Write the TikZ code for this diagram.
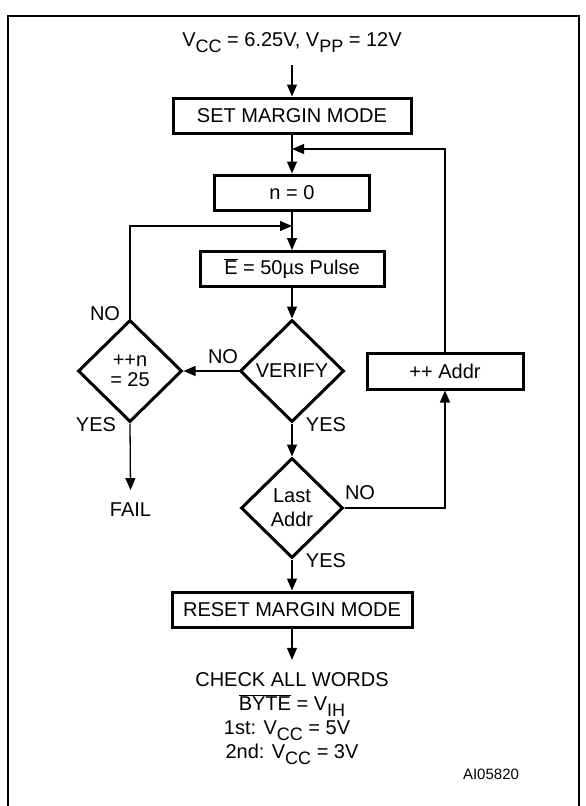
\documentclass[tikz,border=0pt]{standalone}
\usepackage{fontspec}
\setmainfont{Liberation Sans}
\usetikzlibrary{shapes.geometric,arrows.meta}
\newcommand{\lowsub}[1]{\raisebox{-6pt}{\fontsize{18}{18}\selectfont #1}}
\tikzset{
	stepbox/.style={draw, line width=3pt, minimum height=35pt, inner sep=0pt},
	decision/.style={draw, diamond, line width=3pt, inner sep=0pt, minimum width=104pt, minimum height=102pt, align=center},
	flow/.style={line width=1.3pt, -{Triangle[length=12pt,width=10pt]}},
	answer/.style={anchor=base, inner sep=0pt}
}
\begin{document}
\begin{tikzpicture}[x=1pt, y=-1pt, font=\fontsize{20}{24}\selectfont]
			\useasboundingbox (0,0) rectangle (586,806);
			\draw[line width=2.4pt] (8,806) -- (8,16) -- (579,16) -- (579,806);
			\node[anchor=base, inner xsep=0pt, inner ysep=13pt] (supply) at (292,46) {V\lowsub{CC} = 6.25V, V\lowsub{PP} = 12V};
			\node[stepbox, minimum width=238pt] (setmode) at (292,115.5) {SET MARGIN MODE};
			\node[stepbox, minimum width=155pt] (nzero) at (292,192.5) {n = 0};
			\node[stepbox, minimum width=184pt] (pulse) at (292,269) {$\overline{\mbox{E}}$ = 50µs Pulse};
			\node[decision] (verify) at (292,371) {VERIFY};
			\node[decision, font=\fontsize{20}{20}\selectfont] (tries) at (130,371) {++n\\= 25};
			\node[decision, minimum width=102pt, minimum height=100pt] (lastaddr) at (292,508) {Last\\Addr};
			\node[stepbox, minimum width=156pt, minimum height=36pt] (nextaddr) at (445,371) {++ Addr};
			\node[stepbox, minimum width=240pt] (resetmode) at (292,609.5) {RESET MARGIN MODE};
			\node[anchor=base, inner xsep=0pt, inner ysep=12pt] (fail) at (130.5,516) {FAIL};
			\node[anchor=base, inner xsep=0pt, inner ysep=12pt] (check) at (292,686) {CHECK ALL WORDS};
			\node[anchor=base, inner sep=0pt] (bytepin) at (292,710) {$\overline{\mbox{BYTE}}$ = V\lowsub{IH}};
			\node[anchor=base, inner sep=0pt] (firstvcc) at (287,734) {1st: V\lowsub{CC} = 5V};
			\node[anchor=base, inner sep=0pt] (secondvcc) at (292,758) {2nd: V\lowsub{CC} = 3V};
			\node[anchor=base, inner sep=0pt, font=\fontsize{15}{18}\selectfont] (figid) at (491,779) {AI05820};
			\node[answer] (verifyno) at (223,363) {NO};
			\node[answer] (verifyyes) at (326,431) {YES};
			\node[answer] (triesno) at (105,320) {NO};
			\node[answer] (triesyes) at (96,431) {YES};
			\node[answer] (lastno) at (360,499) {NO};
			\node[answer] (lastyes) at (326,567) {YES};
			\coordinate (loopaddr) at (292,149);
			\coordinate (looptry) at (292,226);
			\draw[flow] (supply.south) -- (setmode.north);
			\draw[flow] (setmode.south) -- (nzero.north);
			\draw[flow] (nextaddr.north) |- (loopaddr);
			\draw[flow] (nzero.south) -- (pulse.north);
			\draw[flow] (tries.north) |- (looptry);
			\draw[flow] (pulse.south) -- (verify.north);
			\draw[flow] (verify.west) -- (tries.east);
			\draw[flow] (verify.south) -- (lastaddr.north);
			\draw[flow] (lastaddr.east) -| (nextaddr.south);
			\draw[flow] (lastaddr.south) -- (resetmode.north);
			\draw[flow] (tries.south) -- (fail.north);
			\draw[flow] (resetmode.south) -- (check.north);
		\end{tikzpicture}
\end{document}
